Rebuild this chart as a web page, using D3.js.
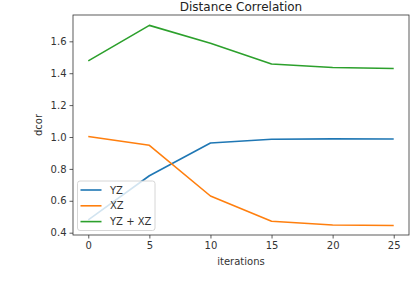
<!DOCTYPE html>
<html>
<head>
<meta charset="utf-8">
<script src="https://cdn.jsdelivr.net/npm/d3@7"></script>
<style>
  html, body { margin: 0; padding: 0; background: #fff; }
  svg { display: block; font-family: "DejaVu Sans", sans-serif; }
</style>
</head>
<body>
<svg id="chart" width="412" height="292"></svg>
<script>
const iterations = [0, 5, 10, 15, 20, 25];
const yz = [0.48, 0.757, 0.962, 0.986, 0.988, 0.987];
const xz = [1.003, 0.948, 0.630, 0.472, 0.448, 0.445];
const yzPlusXz = [1.477, 1.700, 1.588, 1.458, 1.436, 1.430];
const seriesNames = ["YZ", "XZ", "YZ + XZ"];
const seriesColors = ["#1f77b4", "#ff7f0e", "#2ca02c"];
const xTicks = [0, 5, 10, 15, 20, 25];
const yTicks = [0.4, 0.6, 0.8, 1.0, 1.2, 1.4, 1.6];
const title = "Distance Correlation";
const xLabel = "iterations";
const yLabel = "dcor";

const svg = d3.select("#chart");
const m = { left: 73, right: 409, top: 15, bottom: 235 };

const x = d3.scaleLinear().domain([-1.25, 26.25]).range([m.left, m.right]);
const y = d3.scaleLinear().domain([0.3855, 1.765]).range([m.bottom, m.top]);

// axes
const xAxis = svg.append("g").attr("transform", `translate(0,${m.bottom})`)
  .call(d3.axisBottom(x).tickValues(xTicks).tickSize(3.5).tickPadding(3).tickFormat(d3.format("d")));
const yAxis = svg.append("g").attr("transform", `translate(${m.left},0)`)
  .call(d3.axisLeft(y).tickValues(yTicks).tickSize(3.5).tickPadding(3).tickFormat(d3.format(".1f")));
[xAxis, yAxis].forEach(g => {
  g.select(".domain").remove();
  g.selectAll("line").attr("stroke", "#333").attr("stroke-width", 0.8);
  g.selectAll("text").attr("fill", "#333").style("font-size", "10px").style("font-family", "DejaVu Sans, sans-serif");
});

// frame
svg.append("rect").attr("x", m.left).attr("y", m.top)
  .attr("width", m.right - m.left).attr("height", m.bottom - m.top)
  .attr("fill", "none").attr("stroke", "#333").attr("stroke-width", 0.8);

// lines
const data = [yz, xz, yzPlusXz];
const line = d3.line().x((d, i) => x(iterations[i])).y(d => y(d));
data.forEach((vals, k) => {
  svg.append("path").datum(vals).attr("d", line)
    .attr("fill", "none").attr("stroke", seriesColors[k]).attr("stroke-width", 1.6)
    .attr("stroke-linejoin", "round");
});

// title and labels
svg.append("text").attr("x", (m.left + m.right) / 2).attr("y", 11)
  .attr("text-anchor", "middle").style("font-size", "12px").attr("fill", "#222").text(title);
svg.append("text").attr("x", (m.left + m.right) / 2).attr("y", 265)
  .attr("text-anchor", "middle").style("font-size", "10px").attr("fill", "#333").text(xLabel);
svg.append("text").attr("transform", `translate(42,${(m.top + m.bottom) / 2}) rotate(-90)`)
  .attr("text-anchor", "middle").style("font-size", "10px").attr("fill", "#333").text(yLabel);

// legend
const lg = svg.append("g");
lg.append("rect").attr("x", 77.5).attr("y", 181).attr("width", 77.5).attr("height", 49.5)
  .attr("rx", 2.5).attr("fill", "#fff").attr("fill-opacity", 0.8)
  .attr("stroke", "#ccc").attr("stroke-width", 0.8);
seriesNames.forEach((name, k) => {
  const ly = 190 + k * 15.8;
  lg.append("line").attr("x1", 80.5).attr("x2", 101.5).attr("y1", ly).attr("y2", ly)
    .attr("stroke", seriesColors[k]).attr("stroke-width", 1.6);
  lg.append("text").attr("x", 110).attr("y", ly + 3.6).style("font-size", "10px")
    .attr("fill", "#333").text(name);
});
</script>
</body>
</html>
